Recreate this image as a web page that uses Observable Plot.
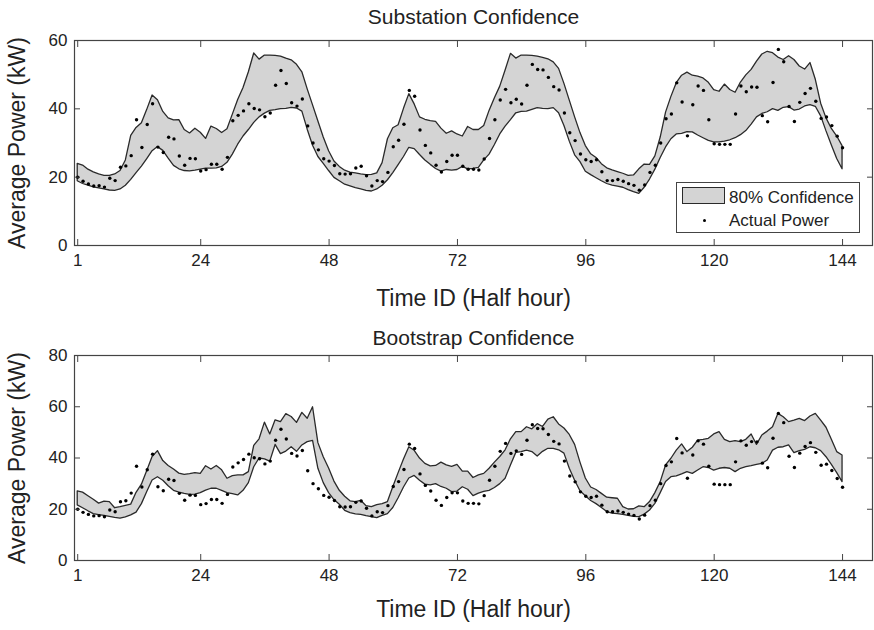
<!DOCTYPE html>
<html>
<head>
<meta charset="utf-8">
<script src="https://cdn.jsdelivr.net/npm/d3@7"></script>
<script src="https://cdn.jsdelivr.net/npm/@observablehq/plot@0.6"></script>
<style>
  html, body { margin: 0; padding: 0; background: #fff; }
  #wrap { position: relative; width: 874px; height: 630px; background: #fff; font-family: "Liberation Sans", Arial, sans-serif; color: #222; overflow: hidden; }
  #p1, #p2 { position: absolute; left: 0; }
  #p1 { top: 0; }
  #p2 { top: 315px; }
  #legend { position: absolute; left: 676px; top: 182px; width: 182px; height: 49px; border: 1px solid #444; background: #fff; }
  #legend .patch { position: absolute; left: 5px; top: 4px; width: 41px; height: 15px; background: #d4d4d4; border: 1.3px solid #2a2a2a; }
  #legend .dot { position: absolute; left: 25.5px; top: 36px; width: 3.4px; height: 3.4px; border-radius: 50%; background: #000; }
  #legend .lbl { position: absolute; left: 52px; font-size: 17px; line-height: 17px; white-space: nowrap; color: #222; }
</style>
</head>
<body>
<div id="wrap">
  <div id="p1"></div>
  <div id="p2"></div>
  <div id="legend">
    <div class="patch"></div>
    <div class="lbl" style="top:6px">80% Confidence</div>
    <div class="dot"></div>
    <div class="lbl" style="top:29px">Actual Power</div>
  </div>
</div>
<script>
// Actual power (kW) for time IDs 1..144 (shared by both panels)
const actual = [20,18.8,18,17.4,17.5,17.1,19.7,19,22.9,23.3,26.3,36.8,28.7,35.4,41.5,28.8,27.2,31.7,31.2,26.2,23.5,25.5,25.4,21.8,22.2,23.8,23.8,22.3,25.8,36.5,38.1,39.4,41.5,40.1,39.7,37.7,38.8,46.9,51.2,47.4,41.8,40.8,42.9,35,30,28,25.4,24.7,
23.4,21,20.9,21,22.7,23.2,20.4,17.4,19,18.7,21.4,28.9,30.8,35.5,45.4,43.7,33.8,29.3,27.1,23.5,21.5,24.6,26.4,26.4,23.2,22.3,22.3,22.1,25.3,31.3,36.8,42.6,45.7,41.8,42.8,41.4,46.9,53,51.5,51.4,49.2,46.5,45.5,38.8,33,30.7,26.8,25.1,
24.6,25.1,21.6,19,19,19.3,18.8,18.1,17.6,16.2,17.7,21.4,23.5,30,37.1,38.5,47.6,42,32.1,41.2,46.7,45.4,36.8,29.8,29.6,29.6,29.6,38.5,46.7,45,46.4,46.3,38,36.2,47.7,57.4,53.8,40.7,36.3,41.9,44.5,46,42.2,37.2,37.6,35.1,32,28.6];

// Substation confidence band (80%)
const subUpper = [23.9,23.4,22.2,21.4,20.8,20.4,20.4,20.8,21.8,24.9,32.1,34.4,35.8,39.7,43.9,42.5,39.1,37.2,36.6,36.7,33.8,32.8,34.2,33,31.2,34.8,34.1,32.9,34,38.3,42.6,46.1,50.7,56.2,54.4,55.6,55.6,55.5,55.3,54.7,54.2,52.9,50.7,45.7,41,36.3,31.6,27.6,
24.6,23,21.9,21.3,21.1,20.8,20.6,20.7,21.1,24.1,31.1,34.3,35.2,40,44.3,41.3,37.5,36.8,36.4,36.2,34.2,32.7,33.4,32.5,31.9,34.7,33.8,33.8,35,39.4,43.1,46.5,51.2,56.1,54.7,55.6,55.6,55.5,55.3,54.9,54.5,53.6,51.7,47.3,42.4,37.5,32.9,29.1,
26.7,25.6,23.8,22.6,22,21.5,21,20.4,20.5,22.3,23.7,23.6,26.1,31.6,38.9,43.5,47.5,49.7,50.6,49.7,49.4,48.9,47.6,45.5,45,47.1,45.5,44.7,47.7,49.8,51.4,53.8,55.9,56.7,56.3,55,54.3,55.4,54.3,52.4,51.5,53.4,48.5,41.5,37.2,34.1,31.9,29.1];
const subLower = [18.8,18,17.5,17,16.7,16.4,16.1,16,16.4,17.5,19.2,21.2,23.1,25.3,27.6,28.8,27.7,25.4,23.3,22.3,21.8,21.7,21.9,22.2,22.5,22.5,22.6,23,24.2,26.6,29.5,31.9,33.8,35.9,37.5,38.6,39.4,39.6,39.9,40,40.3,40.1,39.2,33.9,29.2,25.9,23.9,21.8,
19.8,18.8,17.8,17.3,16.8,16.4,16,15.8,16.4,17.5,19.1,21.2,23.5,25.9,28.6,28.2,26.5,24.9,23.6,22.4,21.6,22.1,21.9,22.1,23,22.3,22.4,22.7,24.9,26.6,29.4,32.5,34.8,36.7,38.7,39.1,39.2,39.7,40.2,40,39.9,40.2,38.7,35,30.4,26.4,24.4,21.6,
20.6,19.7,18.8,18,17.5,17.2,16.9,16.2,15.6,15.1,16.9,19.3,22.2,25.6,28.7,31.1,32.5,32.7,33.2,33.1,32.2,31.4,30.6,30.2,30.2,30.4,30.8,31.4,32.3,33.5,35.4,37.5,38.5,39,39.9,39.4,40.3,40.5,39.5,39.8,40.7,41.1,40.6,37.8,33.4,29.3,25.3,22.3];

// Bootstrap confidence band
const bootUpper = [27,26.5,25.1,23.7,22.2,23,22.8,20.4,20.8,21.3,21.8,26.4,29.6,34.9,40.4,42.7,38.8,36.9,35.5,33.9,33.4,33.7,34.1,33.8,36.8,35.5,36.9,35.2,31.9,32.9,33.2,33.2,34.5,44.7,47.3,53.8,49.2,54.7,54,57.1,56,53.7,57.6,55.3,59.8,45.8,40.3,35.9,
30.8,27.2,24.9,23.1,22.8,23.3,21.2,20.8,21.6,22,22.8,28.6,34.1,39.4,44.2,42.8,39.8,37.7,36.7,36.9,38.2,37.1,36.5,37.3,34.7,34.7,32.2,33.2,33.8,35.8,38.2,40.4,43,47.3,50.1,50.1,52,51.2,53.2,52.1,55,55.9,53.1,51.5,49,45.1,38.2,32,
28.5,27.5,26,24.5,24.3,24.1,20.8,19.9,20,21.1,20.8,22.8,26.3,30.6,37.1,39.7,42.9,45.3,42.3,44,46.8,47.1,47.5,49.2,50.1,47.1,46.2,46.6,46.2,47.1,49.2,45.1,48.8,50.3,52,57.2,55.9,54,54.6,55.3,54.4,56.2,57.2,54.6,51.8,47.1,42.3,41];
const bootLower = [21.5,20.4,19.2,18.1,17.7,17.4,17,16.6,16.3,16.8,17.6,18.7,22,26.7,31.2,32.5,31.1,29,27.2,26.5,26,25.6,25.7,26.3,27.3,28,28,27.2,26.3,25.9,25.4,27.2,30.2,36.4,39.8,39.5,38.6,45.1,41.5,42.5,44.2,42.4,44.9,46.2,46.7,35.8,30.2,26.3,
23.6,21.8,19.4,18.5,18,17.8,17.3,16.9,16.5,17.4,18.1,20.5,24.3,28.5,32,33,31.1,29.6,29.3,29.8,28.7,28,26.7,26.9,28.6,27.6,25.1,26.1,26.8,27.2,28.3,29.8,31.9,37.1,42,42.3,42.9,42.3,40.6,42.4,43.6,43.6,43,41.7,35.8,31.1,27,25.1,
23.2,22,20.5,18.9,18.3,18.1,17.8,17.4,17,16.9,17.9,19.5,22.1,26.3,30.6,32.5,32.8,33.6,34.5,33.8,35.1,36.4,36.1,35.1,35.8,36.1,35.8,34.5,35.8,36.4,36.8,37.3,37.7,39,42.9,44,44.2,44.9,41.9,42.7,43.2,44.2,43.8,42.7,40.3,37.3,34.1,30.6];

// Axis tick values
const xTicks = [1, 24, 48, 72, 96, 120, 144];
const yTicksTop = [0, 20, 40, 60];
const yTicksBottom = [0, 20, 40, 60, 80];

const timeIds = actual.map((_, i) => i + 1);

const FONT = "Liberation Sans, Arial, Helvetica, sans-serif";
const AXIS = "#444";

function panel({title, titleDy, xLabelDy, upper, lower, yMax, yTicks}) {
  const rows = timeIds.map((t, i) => ({t, lo: lower[i], hi: upper[i], act: actual[i]}));
  return Plot.plot({
    width: 874,
    height: 315,
    marginTop: 40,
    marginBottom: 70,
    marginLeft: 74,
    marginRight: 2,
    style: {fontFamily: FONT, color: "#222", background: "white", overflow: "visible"},
    x: {domain: [0.4, 149.6]},
    y: {domain: [0, yMax]},
    marks: [
      Plot.areaY(rows, {x: "t", y1: "lo", y2: "hi", fill: "#d4d4d4", stroke: "#2a2a2a", strokeWidth: 1.3, strokeLinejoin: "round"}),
      Plot.dot(rows, {x: "t", y: "act", r: 1.7, fill: "#000", stroke: null}),
      Plot.frame({stroke: AXIS, strokeWidth: 1.2}),
      Plot.axisX(xTicks, {anchor: "bottom", tickSize: 0, tickPadding: 8, fontSize: 17, label: null, fill: "#222"}),
      Plot.axisX(xTicks, {anchor: "bottom", tickSize: -6, tickFormat: () => "", label: null, stroke: AXIS}),
      Plot.axisX(xTicks, {anchor: "top", tickSize: -6, tickFormat: () => "", label: null, stroke: AXIS}),
      Plot.axisY(yTicks, {anchor: "left", tickSize: 0, tickPadding: 7, fontSize: 17, label: null, fill: "#222"}),
      Plot.axisY(yTicks, {anchor: "left", tickSize: -6, tickFormat: () => "", label: null, stroke: AXIS}),
      Plot.axisY(yTicks, {anchor: "right", tickSize: -6, tickFormat: () => "", label: null, stroke: AXIS}),
      Plot.text([title], {text: d => d, frameAnchor: "top", dy: titleDy, textAnchor: "middle", lineAnchor: "bottom", fontSize: 21, fill: "#222"}),
      Plot.text(["Time ID (Half hour)"], {text: d => d, frameAnchor: "bottom", dy: xLabelDy, textAnchor: "middle", lineAnchor: "bottom", fontSize: 23, fill: "#222"}),
      Plot.text(["Average Power (kW)"], {text: d => d, frameAnchor: "left", dx: -56.5, rotate: -90, textAnchor: "middle", lineAnchor: "middle", fontSize: 23, fill: "#222"})
    ]
  });
}

document.getElementById("p1").append(panel({
  title: "Substation Confidence", titleDy: -16.5, xLabelDy: 60,
  upper: subUpper, lower: subLower, yMax: 60, yTicks: yTicksTop
}));
document.getElementById("p2").append(panel({
  title: "Bootstrap Confidence", titleDy: -11, xLabelDy: 56,
  upper: bootUpper, lower: bootLower, yMax: 80, yTicks: yTicksBottom
}));
</script>
</body>
</html>
